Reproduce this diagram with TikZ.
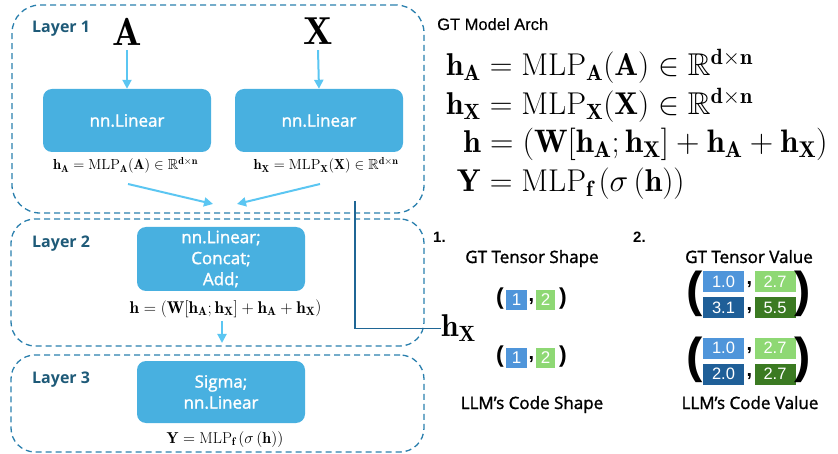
\RequirePackage{fix-cm}
\documentclass[tikz,border=0pt]{standalone}
\usepackage{amsmath,amssymb}
\usepackage{fontspec}
\newfontfamily\osans[FakeBold=1.5]{Open Sans}
\newfontfamily\osansb{Open Sans}
\newfontfamily\arial{Liberation Sans}
\newfontfamily\arialm[FakeBold=0.4]{Liberation Sans}
\usetikzlibrary{arrows.meta}
\definecolor{framec}{HTML}{2A7FAD}
\definecolor{labc}{HTML}{1E5A78}
\definecolor{boxc}{HTML}{48B0E0}
\definecolor{arrc}{HTML}{5BC6F2}
\definecolor{linkc}{HTML}{1F6695}
\definecolor{lblue}{HTML}{4F95DA}
\definecolor{lgreen}{HTML}{8ED874}
\definecolor{dblue}{HTML}{1F5F98}
\definecolor{dgreen}{HTML}{3B7A22}
\begin{document}
\begin{tikzpicture}[x=1pt,y=-1pt,
  layer/.style={draw=framec, dash pattern=on 6pt off 4pt, line width=1.3pt, rounded corners=24pt, inner sep=0pt},
  block/.style={fill=boxc, rounded corners=9pt, inner sep=0pt, text=white, font=\osans\fontsize{17}{21}\selectfont, align=center, minimum width=168pt},
  lbl/.style={text=labc, font=\osansb\bfseries\fontsize{16}{19}\selectfont, anchor=base west, inner sep=0pt},
  flow/.style={draw=arrc, line width=2pt, -{Triangle[length=9pt,width=9pt]}},
  bigmath/.style={inner sep=0pt, font=\fontsize{39}{44}\selectfont},
  smallf/.style={inner sep=0pt, anchor=base, font=\fontsize{14.5}{17}\selectfont},
  eqf/.style={inner sep=0pt, font=\fontsize{31.5}{36}\selectfont},
  head/.style={inner sep=0pt, anchor=base, font=\osans\fontsize{17}{20}\selectfont},
  num/.style={inner sep=0pt, anchor=base west, font=\arial\bfseries\fontsize{15}{18}\selectfont},
  cell/.style={inner sep=0pt, text=white, font=\arial\fontsize{16.5}{18}\selectfont, minimum width=41pt, minimum height=21pt},
  tcell/.style={inner sep=0pt, text=white, font=\arial\fontsize{17}{18}\selectfont, minimum height=20pt},
  tpar/.style={inner sep=0pt, font=\arial\bfseries\fontsize{20}{22}\selectfont},
  tparbig/.style={inner sep=0pt, font=\arial\bfseries\fontsize{23}{25}\selectfont},
  mpar/.style={inner sep=0pt, font=\arial\bfseries\fontsize{49}{52}\selectfont},
]
\useasboundingbox (0,0) rectangle (838,454);
% layer frames
\node[layer, minimum width=412pt, minimum height=208pt, rounded corners=28pt] (L1) at (218,109) {};
\node[layer, minimum width=413pt, minimum height=127pt] (L2) at (217.5,282.5) {};
\node[layer, minimum width=413pt, minimum height=97pt] (L3) at (217.5,403.5) {};
\node[lbl] (l1) at (32,33) {Layer 1};
\node[lbl] (l2) at (32,248) {Layer 2};
\node[lbl] (l3) at (32,383) {Layer 3};
% layer 1
\node[bigmath] (A) at (127,31.5) {$\mathbf{A}$};
\node[bigmath] (X) at (318,31.5) {$\mathbf{X}$};
\node[block, minimum height=63pt] (b1) at (127,120.5) {nn.Linear};
\node[block, minimum height=63pt] (b2) at (319,120.5) {nn.Linear};
\draw[flow] ([yshift=-5pt]A.south) -- (b1.north);
\draw[flow] ([yshift=-5pt]X.south) -- (b2.north);
\node[smallf] (fA) at (125.5,170) {$\mathbf{h}_{\mathbf{A}}=\mathrm{MLP}_{\mathbf{A}}(\mathbf{A})\in\mathbb{R}^{\mathbf{d}\times\mathbf{n}}$};
\node[smallf] (fX) at (326,170) {$\mathbf{h}_{\mathbf{X}}=\mathrm{MLP}_{\mathbf{X}}(\mathbf{X})\in\mathbb{R}^{\mathbf{d}\times\mathbf{n}}$};
\coordinate (sA) at (128,184);
\coordinate (tA) at (213,204);
\coordinate (sX) at (320,184);
\coordinate (tX) at (237,204);
\draw[flow] (sA) -- (tA);
\draw[flow] (sX) -- (tX);
% layer 2
\node[block, minimum height=64pt] (b3) at (221,259) {nn.Linear;\\Concat;\\Add;};
\node[smallf, font=\fontsize{17}{19}\selectfont] (f2) at (225.5,313) {$\mathbf{h}=\left(\mathbf{W}[\mathbf{h}_{\mathbf{A}};\mathbf{h}_{\mathbf{X}}]+\mathbf{h}_{\mathbf{A}}+\mathbf{h}_{\mathbf{X}}\right)$};
\coordinate (s2) at (222,321);
\coordinate (t2) at (222,343);
\draw[flow] (s2) -- (t2);
% layer 3
\node[block, minimum height=62pt] (b4) at (221,392) {Sigma;\\nn.Linear};
\node[smallf, font=\fontsize{15.8}{18}\selectfont] (f3) at (225,443) {$\mathbf{Y}=\mathrm{MLP}_{\mathbf{f}}\left(\sigma\left(\mathbf{h}\right)\right)$};
% right: GT model arch
\node[inner sep=0pt, anchor=base west, font=\arialm\fontsize{16.5}{19}\selectfont] (gt) at (437,30) {GT Model Arch};
\node[eqf, anchor=base east] (e1l) at (481,76) {$\mathbf{h}_{\mathbf{A}}$};
\node[eqf, anchor=base west] (e1r) at (481,76) {${}=\mathrm{MLP}_{\mathbf{A}}(\mathbf{A})\in\mathbb{R}^{\mathbf{d}\times\mathbf{n}}$};
\node[eqf, anchor=base east] (e2l) at (481,115) {$\mathbf{h}_{\mathbf{X}}$};
\node[eqf, anchor=base west] (e2r) at (481,115) {${}=\mathrm{MLP}_{\mathbf{X}}(\mathbf{X})\in\mathbb{R}^{\mathbf{d}\times\mathbf{n}}$};
\node[eqf, anchor=base east] (e3l) at (481,153) {$\mathbf{h}$};
\node[eqf, anchor=base west, font=\fontsize{32.5}{36}\selectfont] (e3r) at (481,153) {${}=\left(\mathbf{W}[\mathbf{h}_{\mathbf{A}};\mathbf{h}_{\mathbf{X}}]+\mathbf{h}_{\mathbf{A}}+\mathbf{h}_{\mathbf{X}}\right)$};
\node[eqf, anchor=base east] (e4l) at (481,192) {$\mathbf{Y}$};
\node[eqf, anchor=base west] (e4r) at (481,192) {${}=\mathrm{MLP}_{\mathbf{f}}\left(\sigma\left(\mathbf{h}\right)\right)$};
% hX link
\node[eqf, anchor=base west] (hx) at (441,337) {$\mathbf{h}_{\mathbf{X}}$};
\coordinate (hxtop) at (355,201);
\draw[linkc, line width=1.5pt] (hxtop) |- (hx.west);
% right: comparisons
\node[num] (n1) at (433,243) {1.};
\node[num] (n2) at (633,243) {2.};
\node[head] (h1) at (532,263) {GT Tensor Shape};
\node[head] (h2) at (749,263) {GT Tensor Value};
\node[head] (h3) at (532,409) {LLM’s Code Shape};
\node[head] (h4) at (750,409) {LLM’s Code Value};
% shape tuples
\node[tcell, fill=lblue, minimum width=21pt] (s11) at (516.5,300) {1};
\node[tcell, fill=lgreen, minimum width=19pt] (s12) at (545.5,300) {2};
\node[tparbig] (sp1l) at (500,299) {(};
\node[tparbig] (sp1r) at (563,299) {)};
\node[tpar] (sc1) at (531.5,302) {,};
\node[tcell, fill=lblue, minimum width=21pt] (s21) at (516.5,358) {1};
\node[tcell, fill=lgreen, minimum width=19pt] (s22) at (545.5,358) {2};
\node[tparbig] (sp2l) at (500,357) {(};
\node[tparbig] (sp2r) at (563,357) {)};
\node[tpar] (sc2) at (531.5,360) {,};
% value matrices
\node[cell, fill=lblue] (v11) at (723.5,282) {1.0};
\node[cell, fill=lgreen] (v12) at (775,282) {2.7};
\node[cell, fill=dblue] (v13) at (723.5,307.5) {3.1};
\node[cell, fill=dgreen] (v14) at (775,307.5) {5.5};
\node[tpar] (vc11) at (749.5,285) {,};
\node[tpar] (vc12) at (749.5,311) {,};
\node[mpar] (vp1l) at (695,294) {(};
\node[mpar] (vp1r) at (803,294) {)};
\node[cell, fill=lblue] (v21) at (723.5,348) {1.0};
\node[cell, fill=lgreen] (v22) at (775,348) {2.7};
\node[cell, fill=dblue] (v23) at (723.5,374) {2.0};
\node[cell, fill=dgreen] (v24) at (775,374) {2.7};
\node[tpar] (vc21) at (749.5,351) {,};
\node[tpar] (vc22) at (749.5,377) {,};
\node[mpar] (vp2l) at (695,360) {(};
\node[mpar] (vp2r) at (803,360) {)};
\end{tikzpicture}
\end{document}
